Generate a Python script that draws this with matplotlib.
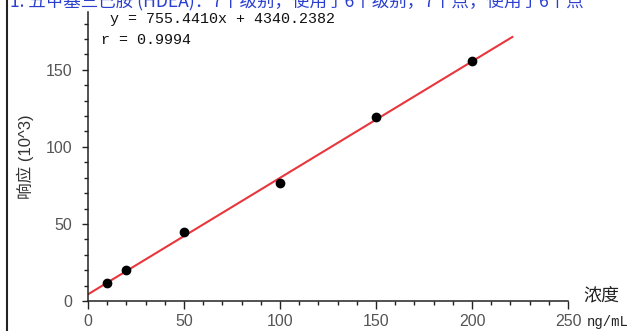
import matplotlib
matplotlib.use("Agg")
import matplotlib.pyplot as plt
from matplotlib.lines import Line2D
import matplotlib.ticker as ticker
import numpy as np

plt.rcParams['font.family'] = ['Liberation Sans', 'Noto Sans CJK SC', 'DejaVu Sans']

# calibration levels (ng/mL) and responses (x10^3)
conc = [10, 20, 50, 100, 150, 200]
resp = [12.0, 19.8, 44.5, 76.5, 119.5, 156.0]

slope = 755.4410
intercept = 4340.2382
r_value = 0.9994
fit_end = 221

title = "1. 五甲基三己胺 (HDEA)：7个级别，使用了6个级别，7个点，使用了6个点"

fig = plt.figure(figsize=(6.38, 3.31), dpi=100)
ax = fig.add_axes([88 / 638, 30 / 331, 480 / 638, 289 / 331])

xs = np.array([0, fit_end])
ax.plot(xs, (slope * xs + intercept) / 1000, color='#e8363c', lw=1.5, zorder=2)
ax.plot(conc, resp, 'o', color='black', markersize=6, zorder=3)

ax.set_xlim(0, 250)
ax.set_ylim(0, 187.5)
ax.spines['top'].set_visible(False)
ax.spines['right'].set_visible(False)
for s in ('left', 'bottom'):
    ax.spines[s].set_linewidth(1.1)
    ax.spines[s].set_color('#222222')

ax.xaxis.set_major_locator(ticker.MultipleLocator(50))
ax.xaxis.set_minor_locator(ticker.MultipleLocator(10))
ax.yaxis.set_major_locator(ticker.MultipleLocator(50))
ax.yaxis.set_minor_locator(ticker.MultipleLocator(10))
ax.tick_params(which='major', direction='out', width=1, color='#222222',
               labelsize=11.5, labelcolor='#555555')
ax.tick_params(axis='x', which='major', length=6, pad=3)
ax.tick_params(axis='y', which='major', length=4.5, pad=7)
ax.tick_params(which='minor', direction='out', length=3, width=1, color='#222222')

ax.set_ylabel('响应 (10^3)', fontsize=12, color='#333333')
ax.yaxis.set_label_coords(-0.112, 0.5)

# axis unit labels at the end of the x axis
fig.text(583 / 638, 1 - 295 / 331, '浓度', fontsize=13, family=['Noto Sans CJK SC'],
         ha='left', va='center', color='#222222')
fig.text(587 / 638, 1 - 322 / 331, 'ng/mL', fontsize=10, family=['Liberation Mono'],
         ha='left', va='center', color='#222222')

# regression equation
fig.text(110 / 638, 1 - 19 / 331, f'y = {slope:.4f}x + {intercept:.4f}', fontsize=10.8,
         family=['Liberation Mono'], ha='left', va='center', color='#111111')
fig.text(101 / 638, 1 - 40 / 331, f'r = {r_value:.4f}', fontsize=10.8,
         family=['Liberation Mono'], ha='left', va='center', color='#111111')

# header line, partly above the top edge
fig.text(10 / 638, 1 - 1 / 331, title, fontsize=12.6, color='#2a3fd0',
         family=['Noto Sans CJK SC', 'DejaVu Sans'], ha='left', va='center')

# left frame border
fig.add_artist(Line2D([7 / 638, 7 / 638], [0, 1], color='#222222', lw=1.5,
                      transform=fig.transFigure))

fig.savefig('out.png', dpi=100)
